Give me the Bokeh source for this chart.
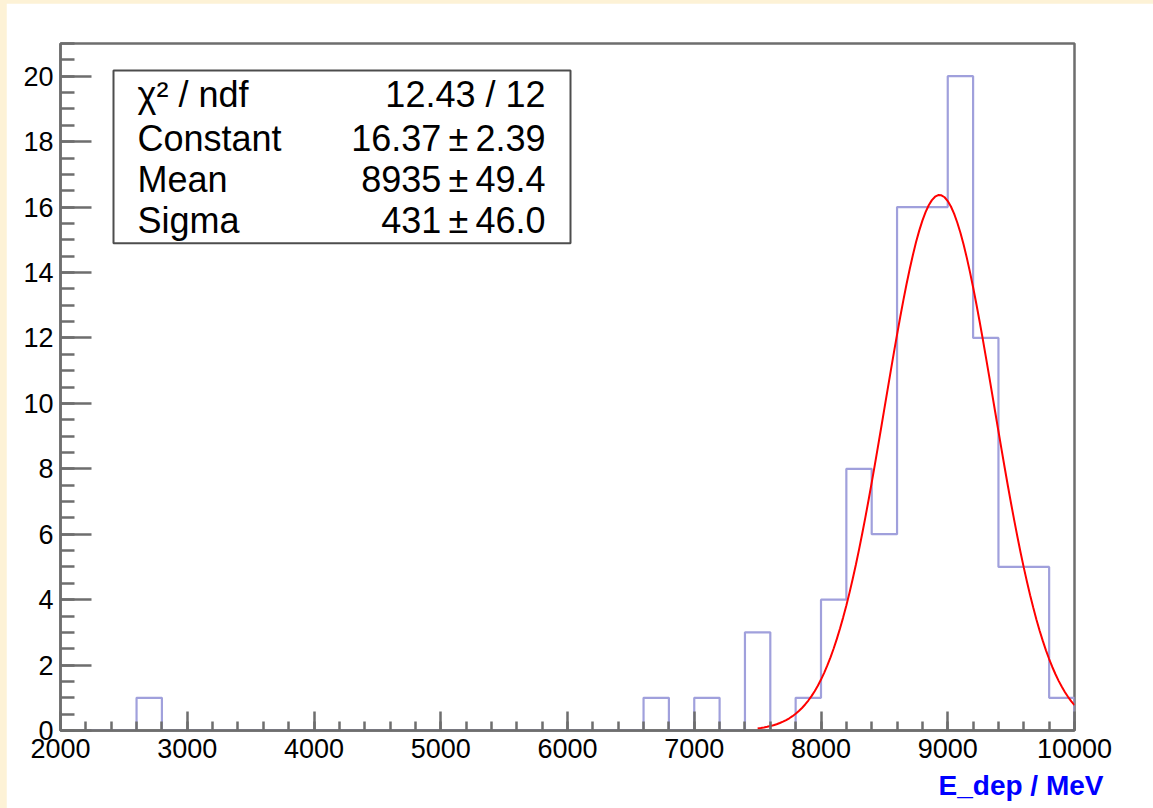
import numpy as np
from bokeh.plotting import figure
from bokeh.models import Range1d, FixedTicker, Label, BoxAnnotation, Title
from bokeh.layouts import column
from bokeh.embed import file_html
from bokeh.resources import INLINE

# ---- histogram of deposited energy (200 MeV bins from 2000 to 10000) ----
x_min, x_max, bin_width = 2000, 10000, 200
filled_bin_low_edges = [2600, 6600, 7000, 7400, 7800, 8000, 8200, 8400,
                        8600, 8800, 9000, 9200, 9400, 9600, 9800]
filled_bin_counts = [1, 1, 1, 3, 1, 4, 8, 6, 16, 16, 20, 12, 5, 5, 1]

# ---- gaussian fit result ----
fit_labels = ["Constant", "Mean", "Sigma"]
fit_values = [16.37, 8935, 431]
fit_errors = [2.39, 49.4, 46.0]
fit_value_text = ["16.37", "8935", "431"]
fit_error_text = ["2.39", "49.4", "46.0"]
fit_range = [7500, 10000]
chi2, ndf = 12.43, 12

y_max = 21

# full set of bins (empty ones included)
edges = np.arange(x_min, x_max + bin_width, bin_width)
counts = np.zeros(len(edges) - 1)
for lo, c in zip(filled_bin_low_edges, filled_bin_counts):
    counts[int(round((lo - x_min) / bin_width))] = c

# step outline of the histogram
step_x, step_y = [edges[0]], [0.0]
for lo, hi, c in zip(edges[:-1], edges[1:], counts):
    step_x += [lo, hi]
    step_y += [c, c]
step_x.append(edges[-1])
step_y.append(0.0)

# fitted gaussian, sampled like a TF1 with 100 points
const, mean, sigma = fit_values
fx = np.linspace(fit_range[0], fit_range[1], 101)
fy = const * np.exp(-0.5 * ((fx - mean) / sigma) ** 2)

# frame geometry inside the page (pixels)
PAD_L, PAD_T = 6, 3
FRAME_L, FRAME_R, FRAME_T, FRAME_B = 60, 1074, 43, 731
W, H = 1153, 808


def dx(px):
    return x_min + (px - FRAME_L) / (FRAME_R - FRAME_L) * (x_max - x_min)


def dy(py):
    return (FRAME_B - py) / (FRAME_B - FRAME_T) * y_max


fig = figure(width=W - PAD_L, height=H - PAD_T,
             x_range=Range1d(x_min, x_max), y_range=Range1d(0, y_max),
             output_backend="svg", toolbar_location=None,
             min_border_left=FRAME_L - PAD_L, min_border_right=W - FRAME_R,
             min_border_top=FRAME_T - PAD_T, min_border_bottom=H - FRAME_B,
             background_fill_color="white", border_fill_color="white")
fig.xgrid.visible = False
fig.ygrid.visible = False
fig.outline_line_color = "#6e6e6e"
fig.outline_line_width = 2.5
fig.outline_line_alpha = 1.0

fig.line(step_x, step_y, line_color="#a0a0dc", line_width=2.2)
fig.line(fx, fy, line_color="#ff0000", line_width=2)

axis_gray = "#6e6e6e"
fig.xaxis.ticker = FixedTicker(ticks=list(range(x_min, x_max + 1, 1000)),
                               minor_ticks=list(range(x_min, x_max + 1, 200)))
fig.yaxis.ticker = FixedTicker(ticks=list(range(0, 21, 2)),
                               minor_ticks=list(np.arange(0, y_max + 0.01, 0.5)))
for ax in (fig.xaxis, fig.yaxis):
    ax.axis_line_color = axis_gray
    ax.axis_line_width = 2.5
    ax.major_tick_line_color = axis_gray
    ax.minor_tick_line_color = axis_gray
    ax.major_tick_line_width = 2.5
    ax.minor_tick_line_width = 2.5
    ax.major_tick_out = 0
    ax.minor_tick_out = 0
    ax.major_label_text_font = "Liberation Sans"
    ax.major_label_text_font_size = "27px"
    ax.major_label_text_color = "black"
fig.xaxis.major_tick_in = 19
fig.xaxis.minor_tick_in = 9
fig.yaxis.major_tick_in = 31
fig.yaxis.minor_tick_in = 14
fig.xaxis.major_label_standoff = 8
fig.yaxis.major_label_standoff = 7

# axis title at the right end, below the axis
fig.add_layout(Title(text="E_dep / MeV", align="right", offset=-29, standoff=15,
                     text_font="Liberation Sans", text_font_style="bold",
                     text_font_size="28px", text_color="#0000ff"), "below")

# statistics box
fig.add_layout(BoxAnnotation(left=dx(113), right=dx(570), top=dy(70), bottom=dy(243),
                             fill_color="white", fill_alpha=1.0,
                             line_color="#4d4d4d", line_width=2, line_alpha=1.0))
rows_left = ["\u03c7\u00b2 / ndf"] + fit_labels
rows_right = [f"{chi2:.2f} / {ndf}"] + [
    f"{v}\u2009\u00b1\u2009{e}" for v, e in zip(fit_value_text, fit_error_text)]
baselines = [94, 138, 179, 220]
for left_txt, right_txt, b in zip(rows_left, rows_right, baselines):
    fig.add_layout(Label(x=dx(137), y=dy(b), text=left_txt, text_align="left",
                         text_baseline="alphabetic", text_font="Liberation Sans",
                         text_font_size="36px", text_color="black"))
    fig.add_layout(Label(x=dx(545), y=dy(b), text=right_txt, text_align="right",
                         text_baseline="alphabetic", text_font="Liberation Sans",
                         text_font_size="36px", text_color="black"))

page = column(fig, styles={"background-color": "#fdf2d6",
                           "padding-top": f"{PAD_T}px", "padding-left": f"{PAD_L}px"})

open("out.html", "w").write(file_html(page, INLINE))
